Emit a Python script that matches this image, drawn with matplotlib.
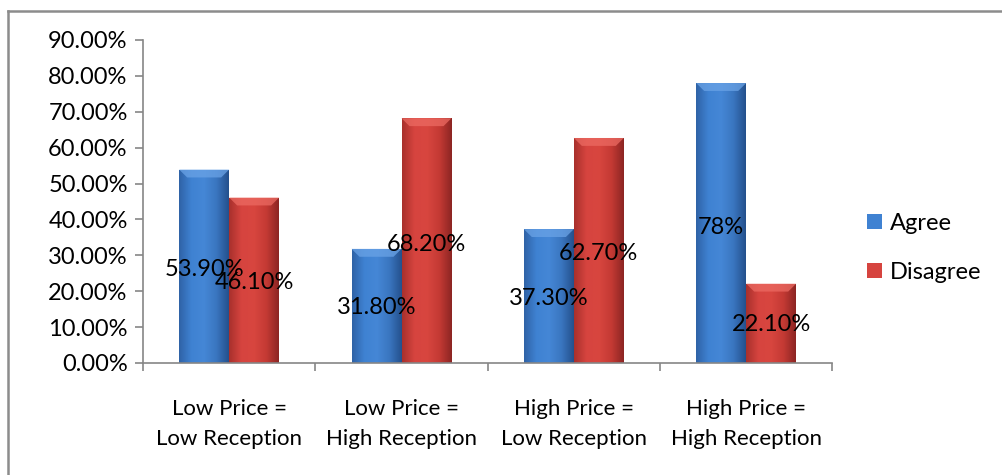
import numpy as np
import matplotlib
matplotlib.use("Agg")
import matplotlib.pyplot as plt
from matplotlib.patches import Polygon
from matplotlib.lines import Line2D
from matplotlib.colors import LinearSegmentedColormap
from matplotlib.ticker import FuncFormatter

plt.rcParams['font.family'] = ['Lato', 'DejaVu Sans']

# data
categories = ['Low Price =\nLow Reception', 'Low Price =\nHigh Reception',
              'High Price =\nLow Reception', 'High Price =\nHigh Reception']
agree = [53.9, 31.8, 37.3, 78.0]
disagree = [46.1, 68.2, 62.7, 22.1]
agree_labels = ['53.90%', '31.80%', '37.30%', '78%']
disagree_labels = ['46.10%', '68.20%', '62.70%', '22.10%']

# colours: dark edge, light middle, dark edge
blue_cmap = LinearSegmentedColormap.from_list(
    'b', ['#2f62a6', '#3f82d2', '#4587d6', '#3a76c0', '#24508c'])
red_cmap = LinearSegmentedColormap.from_list(
    'r', ['#a8302c', '#d6443f', '#d8463f', '#c43a34', '#8c2523'])
blue_top = '#6aa3e6'
red_top = '#ec6a62'

FS = 17

fig = plt.figure(figsize=(10.02, 4.75), dpi=100)
ax = fig.add_axes([0.1427, 0.2358, 0.688, 0.680])

# frame lines (top and left)
W, H = 1002, 475
fig.lines.append(Line2D([8 / W, 1], [1 - 11 / H, 1 - 11 / H], transform=fig.transFigure,
                        color='#8c8c8c', linewidth=1.8))
fig.lines.append(Line2D([8 / W, 8 / W], [0, 1 - 11 / H], transform=fig.transFigure,
                        color='#8c8c8c', linewidth=1.8))

x = np.arange(len(categories))
w = 0.29
grad = np.linspace(0, 1, 256).reshape(1, -1)


def shade(bars, cmap, topcol):
    for b in bars:
        x0, y0 = b.get_x(), b.get_y()
        bw, bh = b.get_width(), b.get_height()
        im = ax.imshow(grad, cmap=cmap, aspect='auto',
                       extent=[x0, x0 + bw, y0, y0 + bh], zorder=2)
        im.set_clip_path(b)
        # bevel on top of the bar
        d = bw * 0.16
        dh = 2.2
        ax.add_patch(Polygon([[x0, y0 + bh], [x0 + bw, y0 + bh],
                              [x0 + bw - d, y0 + bh - dh], [x0 + d, y0 + bh - dh]],
                             closed=True, facecolor=topcol, edgecolor='none',
                             alpha=0.75, zorder=3))


b1 = ax.bar(x - w / 2, agree, w, color='#3f82d2', label='Agree', zorder=1)
b2 = ax.bar(x + w / 2, disagree, w, color='#d6443f', label='Disagree', zorder=1)
shade(b1, blue_cmap, blue_top)
shade(b2, red_cmap, red_top)

for i in range(len(categories)):
    ax.text(x[i] - w / 2, agree[i] * 0.485, agree_labels[i], ha='center',
            va='center', fontsize=FS, color='black', zorder=5)
    ax.text(x[i] + w / 2, disagree[i] * 0.485, disagree_labels[i], ha='center',
            va='center', fontsize=FS, color='black', zorder=5)

ax.set_xlim(-0.5, len(categories) - 0.5)
ax.set_ylim(0, 90)
ax.set_yticks(np.arange(0, 91, 10))
ax.yaxis.set_major_formatter(FuncFormatter(lambda v, p: '%.2f%%' % v))
ax.set_xticks(x)
ax.set_xticklabels(categories, fontsize=16, linespacing=1.6)
ax.set_xticks(np.arange(-0.5, len(categories)), minor=True)
ax.tick_params(axis='x', which='major', length=0, pad=26)
ax.tick_params(axis='x', which='minor', length=6, color='#868686', width=1.2)
ax.tick_params(axis='y', length=6, color='#868686', width=1.2, labelsize=FS, pad=5)

for s in ['top', 'right']:
    ax.spines[s].set_visible(False)
for s in ['left', 'bottom']:
    ax.spines[s].set_color('#868686')
    ax.spines[s].set_linewidth(1.2)

leg = ax.legend(handles=[b1, b2], loc='center left', bbox_to_anchor=(1.02, 0.356),
                frameon=False, fontsize=FS, handlelength=0.6, handleheight=0.6,
                handletextpad=0.35, labelspacing=1.2)

fig.savefig('out.png', dpi=100)
